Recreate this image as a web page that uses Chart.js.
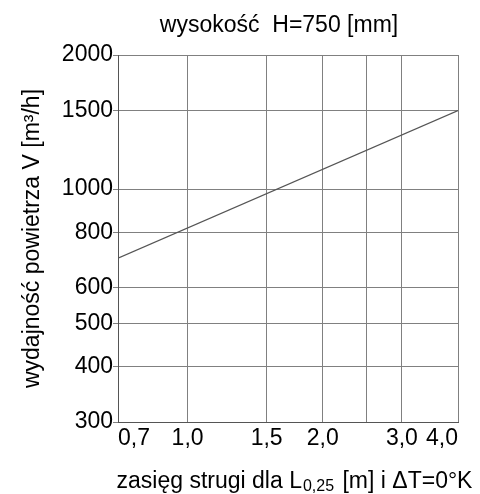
<!DOCTYPE html>
<html>
<head>
<meta charset="utf-8">
<script src="https://cdn.jsdelivr.net/npm/chart.js@4/dist/chart.umd.min.js"></script>
<style>
  html, body { margin: 0; padding: 0; background: #fff; }
  #wrap { width: 480px; height: 494px; }
</style>
</head>
<body>
<div id="wrap"><canvas id="airChart"></canvas></div>
<script>
// throw range [m] and air flow [m3/h], both on log axes
const rangeTicks = [0.7, 1.0, 1.5, 2.0, 2.5, 3.0, 4.0];
const rangeLabels = ["0,7", "1,0", "1,5", "2,0", "", "3,0", "4,0"];
const flowTicks = [300, 400, 500, 600, 800, 1000, 1500, 2000];
const flowLabels = ["300", "400", "500", "600", "800", "1000", "1500", "2000"];

// H = 750 mm characteristic
const throwRange = [0.7, 4.0];
const airFlow = [700, 1500];

const FONT = '"Liberation Sans", Arial, sans-serif';

// titles drawn by hand (x title needs a subscript)
const captions = {
    id: "captions",
    afterDraw(chart) {
        const { ctx, chartArea } = chart;
        const cx = (chartArea.left + chartArea.right) / 2;
        const cy = (chartArea.top + chartArea.bottom) / 2;
        ctx.save();
        ctx.fillStyle = "#000";
        ctx.textBaseline = "alphabetic";
        ctx.font = "23px " + FONT;
        ctx.textAlign = "center";
        ctx.fillText("wysokość  H=750 [mm]", cx - 9, 32);

        // y axis title
        ctx.save();
        ctx.translate(39, cy);
        ctx.rotate(-Math.PI / 2);
        ctx.fillText("wydajność powietrza V [m³/h]", 0, 0);
        ctx.restore();

        // x axis title: main text, subscript, main text
        const partA = "zasięg strugi dla L";
        const sub = "0,25";
        const partB = " [m] i ΔT=0°K";
        ctx.textAlign = "left";
        ctx.font = "23px " + FONT;
        const wA = ctx.measureText(partA).width;
        const wB = ctx.measureText(partB).width;
        ctx.font = "16px " + FONT;
        const wS = ctx.measureText(sub).width + 2;
        let x = cx + 6 - (wA + wS + wB) / 2;
        const base = 488;
        ctx.font = "23px " + FONT;
        ctx.fillText(partA, x, base);
        x += wA + 1;
        ctx.font = "16px " + FONT;
        ctx.fillText(sub, x, base + 3);
        x += wS;
        ctx.font = "23px " + FONT;
        ctx.fillText(partB, x, base);
        ctx.restore();
    }
};

const ctx = document.getElementById("airChart").getContext("2d");

new Chart(ctx, {
    type: "line",
    data: {
        datasets: [{
            data: throwRange.map((v, i) => ({ x: v, y: airFlow[i] })),
            borderColor: "#555",
            borderWidth: 1.2,
            pointRadius: 0,
            fill: false,
            tension: 0
        }]
    },
    options: {
        responsive: true,
        maintainAspectRatio: false,
        animation: false,
        devicePixelRatio: 1,
        layout: { padding: { top: 55, right: 22, left: 0, bottom: 0 } },
        plugins: {
            legend: { display: false },
            tooltip: { enabled: false }
        },
        scales: {
            x: {
                type: "logarithmic",
                position: "bottom",
                min: 0.7,
                max: 4.0,
                afterBuildTicks: (scale) => {
                    scale.ticks = rangeTicks.map((v) => ({ value: v }));
                },
                afterFit: (scale) => { scale.height = 72; },
                ticks: {
                    autoSkip: false,
                    maxRotation: 0,
                    align: "inner",
                    padding: 3,
                    color: "#000",
                    font: { family: FONT, size: 23 },
                    callback: (value) => rangeLabels[rangeTicks.indexOf(value)]
                },
                grid: { color: "#808080", lineWidth: 1, drawTicks: false },
                border: { color: "#555", width: 1 }
            },
            y: {
                type: "logarithmic",
                position: "left",
                min: 300,
                max: 2000,
                afterBuildTicks: (scale) => {
                    scale.ticks = flowTicks.map((v) => ({ value: v }));
                },
                afterFit: (scale) => { scale.width = 118; },
                ticks: {
                    autoSkip: false,
                    padding: 0,
                    color: "#000",
                    font: { family: FONT, size: 23 },
                    callback: (value) => flowLabels[flowTicks.indexOf(value)]
                },
                grid: { color: "#808080", lineWidth: 1, drawTicks: true, tickLength: 5 },
                border: { color: "#555", width: 1 }
            }
        }
    },
    plugins: [captions]
});
</script>
</body>
</html>
